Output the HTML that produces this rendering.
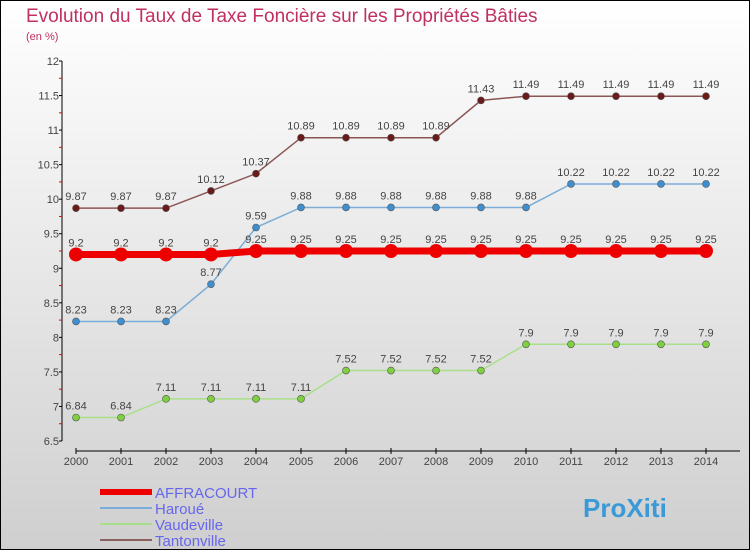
<!DOCTYPE html>
<html><head><meta charset="utf-8"><style>
body{margin:0}
#c{width:750px;height:550px;position:relative;box-sizing:border-box;border:1px solid #000;background:linear-gradient(#fff,#cfcfcf);font-family:"Liberation Sans",sans-serif;overflow:hidden}
</style></head><body>
<div id="c">
<svg id="s" width="750" height="550" style="position:absolute;left:-1px;top:-1px">
<text x="26" y="22" font-size="19" fill="#c03060">Evolution du Taux de Taxe Foncière sur les Propriétés Bâties</text>
<text x="26" y="40" font-size="11" fill="#c03060">(en %)</text>
</svg>
</div>
<script>
const years=["2000","2001","2002","2003","2004","2005","2006","2007","2008","2009","2010","2011","2012","2013","2014"];
const yTicks=[6.5,7,7.5,8,8.5,9,9.5,10,10.5,11,11.5,12];
const affracourt=[9.2,9.2,9.2,9.2,9.25,9.25,9.25,9.25,9.25,9.25,9.25,9.25,9.25,9.25,9.25];
const haroue=[8.23,8.23,8.23,8.77,9.59,9.88,9.88,9.88,9.88,9.88,9.88,10.22,10.22,10.22,10.22];
const vaudeville=[6.84,6.84,7.11,7.11,7.11,7.11,7.52,7.52,7.52,7.52,7.9,7.9,7.9,7.9,7.9];
const tantonville=[9.87,9.87,9.87,10.12,10.37,10.89,10.89,10.89,10.89,11.43,11.49,11.49,11.49,11.49,11.49];
const s=document.getElementById('s');const NS="http://www.w3.org/2000/svg";
const X=i=>76+i*45, Y=v=>441-(v-6.5)/5.5*380;
function mk(t,a,p){const e=document.createElementNS(NS,t);for(const k in a)e.setAttribute(k,a[k]);(p||s).appendChild(e);return e;}
let ax=mk('line',{x1:62,y1:Y(12),x2:62,y2:441,stroke:'#000'});


yTicks.forEach((v,i)=>{mk('line',{x1:59,x2:62,y1:Y(v),y2:Y(v),stroke:'#000'});
if(i<yTicks.length-1)mk('line',{x1:59,x2:62,y1:Y(v+0.25),y2:Y(v+0.25),stroke:'#e00'});
const t=mk('text',{x:59,y:Y(v)+4,'font-size':11,fill:'#444','text-anchor':'end'});t.textContent=String(v);

});
let xa=mk('line',{x1:X(0),y1:451,x2:740,y2:451,stroke:'#000'});


years.forEach((y,i)=>{mk('line',{x1:X(i),x2:X(i),y1:448,y2:454,stroke:'#000'});
const t=mk('text',{x:X(i),y:465,'font-size':11,fill:'#444','text-anchor':'middle'});t.textContent=y;

});
function series(d,col,fill,w,r,name){
const g=mk('g',{});


mk('polyline',{points:d.map((v,i)=>X(i)+','+Y(v)).join(' '),fill:'none',stroke:col,'stroke-width':w},g);
d.forEach((v,i)=>{const c=mk('circle',{cx:X(i),cy:Y(v),r:r,fill:fill,stroke:'#555','stroke-width':r>5?0:0.6},g);


const t=mk('text',{x:X(i),y:Y(v)-8,'font-size':11,fill:'#444','text-anchor':'middle'},g);t.textContent=String(v);

});}
series(tantonville,'#8b5555','#6b1a1a',1.5,3.5,'tantonville');
series(haroue,'#7aaed8','#3f8fd0',1.5,3.5,'haroue');
series(vaudeville,'#a8e08a','#7ed040',1.5,3.5,'vaudeville');
series(affracourt,'#ee0000','#ee0000',7,7,'affracourt');
const leg=[['AFFRACOURT','#ee0000',6],['Haroué','#7aaed8',2],['Vaudeville','#a8e08a',2],['Tantonville','#8b6060',2]];
leg.forEach((l,i)=>{const y=492+i*16;const g=mk('g',{});


mk('line',{x1:100,x2:152,y1:y,y2:y,stroke:l[1],'stroke-width':l[2]},g);
const t=mk('text',{x:155,y:y+6,'font-size':15,fill:'#6666ee'},g);t.textContent=l[0];});
const p=mk('text',{x:583,y:517,'font-size':26,'font-weight':'bold',fill:'#3a9ad8'});p.textContent='ProXiti';


</script>
</body></html>
